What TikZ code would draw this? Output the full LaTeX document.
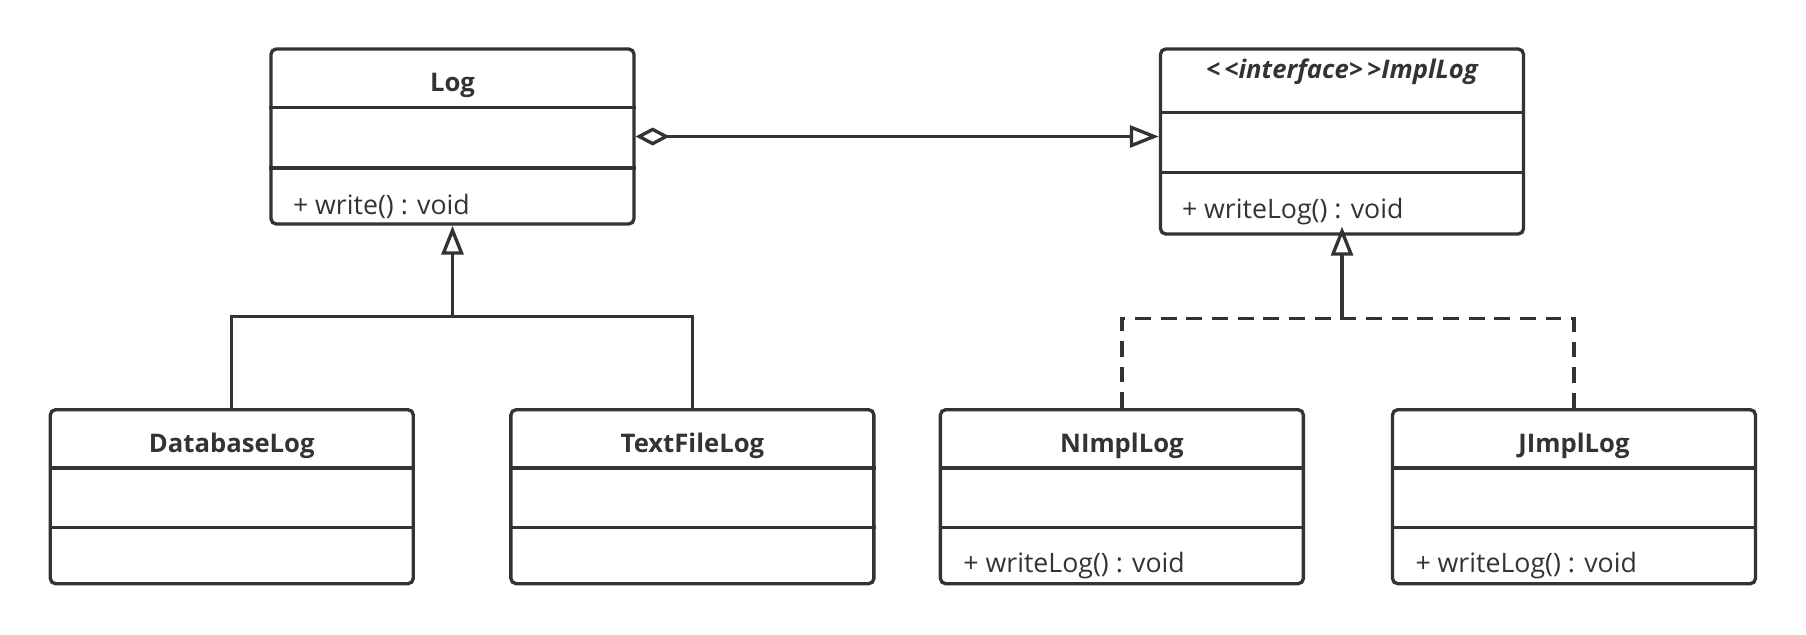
\documentclass[tikz,border=0pt]{standalone}
\usepackage{fontspec}
\setmainfont{Open Sans}
\usetikzlibrary{arrows.meta}
\definecolor{grigio}{HTML}{333333}

\begin{document}
\begin{tikzpicture}[color=grigio, line width=0.95pt,
   classe/.style={draw, rounded corners=1.5pt, minimum width=3.63cm, inner sep=0},
   titolo/.style={inner sep=0, font=\bfseries\fontsize{7.3}{8}\selectfont},
   metodo/.style={anchor=west, inner sep=0, font=\fontsize{7.6}{9}\selectfont},
   eredita/.style={-{Triangle[open,length=2.9mm,width=2.2mm]}},
   aggrega/.style={{Diamond[open,length=3.4mm,width=1.8mm]}-{Triangle[open,length=2.9mm,width=2.2mm]}}]
   \useasboundingbox (0,0) rectangle (18.06,6.34);
% classe Log
   \node[classe, minimum height=1.75cm] (log) at (4.525,4.975) {};
   \draw ([yshift=-0.6cm]log.north west) -- ([yshift=-0.6cm]log.north east);
   \draw ([yshift=-1.207cm]log.north west) -- ([yshift=-1.207cm]log.north east);
   \node[titolo] (logT) at ([yshift=-0.38cm]log.north) {Log};
   \node[metodo] (logM) at ([xshift=0.22cm,yshift=0.195cm]log.south west) {+ write() : void};
% interfaccia ImplLog
   \node[classe, minimum height=1.85cm] (impl) at (13.42,4.925) {};
   \draw ([yshift=-0.65cm]impl.north west) -- ([yshift=-0.65cm]impl.north east);
   \draw ([yshift=-1.25cm]impl.north west) -- ([yshift=-1.25cm]impl.north east);
   \node[titolo] (implT) at ([yshift=-0.245cm]impl.north)
      {\itshape <\kern1.2pt<interface>\kern1.2pt>ImplLog};
   \node[metodo] (implM) at ([xshift=0.215cm,yshift=0.245cm]impl.south west) {+ writeLog() : void};
% classe DatabaseLog
   \node[classe, minimum height=1.74cm] (dblog) at (2.318,1.373) {};
   \draw ([yshift=-0.6cm]dblog.north west) -- ([yshift=-0.6cm]dblog.north east);
   \draw ([yshift=-1.196cm]dblog.north west) -- ([yshift=-1.196cm]dblog.north east);
   \node[titolo] (dblogT) at ([yshift=-0.375cm]dblog.north) {DatabaseLog};
% classe TextFileLog
   \node[classe, minimum height=1.74cm] (tflog) at (6.924,1.373) {};
   \draw ([yshift=-0.6cm]tflog.north west) -- ([yshift=-0.6cm]tflog.north east);
   \draw ([yshift=-1.196cm]tflog.north west) -- ([yshift=-1.196cm]tflog.north east);
   \node[titolo] (tflogT) at ([yshift=-0.375cm]tflog.north) {TextFileLog};
% classe NImplLog
   \node[classe, minimum height=1.74cm] (nlog) at (11.219,1.373) {};
   \draw ([yshift=-0.6cm]nlog.north west) -- ([yshift=-0.6cm]nlog.north east);
   \draw ([yshift=-1.196cm]nlog.north west) -- ([yshift=-1.196cm]nlog.north east);
   \node[titolo] (nlogT) at ([yshift=-0.375cm]nlog.north) {NImplLog};
   \node[metodo] (nlogM) at ([xshift=0.23cm,yshift=0.195cm]nlog.south west) {+ writeLog() : void};
% classe JImplLog
   \node[classe, minimum height=1.74cm] (jlog) at (15.74,1.373) {};
   \draw ([yshift=-0.6cm]jlog.north west) -- ([yshift=-0.6cm]jlog.north east);
   \draw ([yshift=-1.196cm]jlog.north west) -- ([yshift=-1.196cm]jlog.north east);
   \node[titolo] (jlogT) at ([yshift=-0.375cm]jlog.north) {JImplLog};
   \node[metodo] (jlogM) at ([xshift=0.23cm,yshift=0.195cm]jlog.south west) {+ writeLog() : void};
% aggregazione
   \draw[aggrega] (log.east) -- (log.east -| impl.west);
% ereditarieta
   \coordinate (g1) at ([yshift=-0.91cm]log.south);
   \draw[eredita] (g1) -- (log.south);
   \draw (dblog.north) |- (g1) -| (tflog.north);
% realizzazione
   \coordinate (g2) at ([yshift=-0.83cm]impl.south);
   \draw[eredita] (g2) -- ([yshift=0.09cm]impl.south);
   \draw[dash pattern=on 4.5pt off 2.8pt] (nlog.north) |- (g2) -| (jlog.north);
\end{tikzpicture}
\end{document}
